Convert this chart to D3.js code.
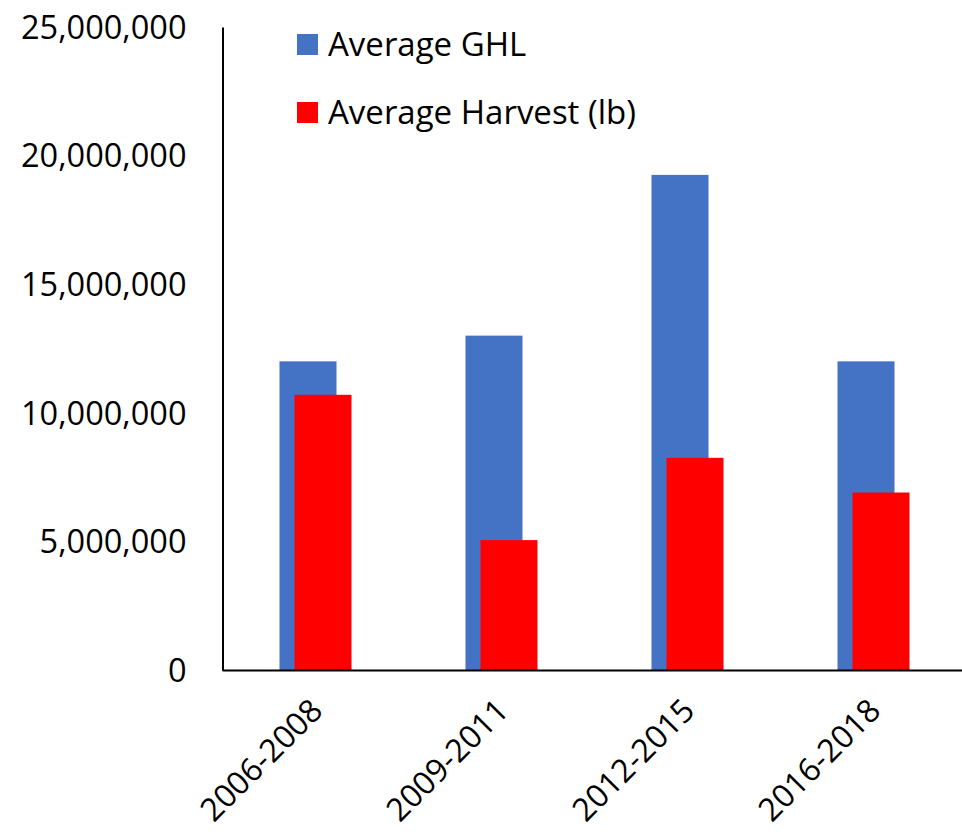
<!DOCTYPE html>
<html><head><meta charset="utf-8">
<script src="https://cdn.jsdelivr.net/npm/d3@7"></script>
<style>body{margin:0;background:#fff}svg{display:block}text{font-family:"Open Sans",sans-serif;fill:#000}</style>
</head><body>
<svg id="c" width="962" height="832"></svg>
<script>
const categories = ["2006-2008","2009-2011","2012-2015","2016-2018"];
const ghl = [12000000,13000000,19250000,12000000];
const harvest = [10700000,5050000,8250000,6900000];
const seriesNames = ["Average GHL","Average Harvest (lb)"];
const seriesColors = ["#4472C4","#FF0000"];
const yTicks = [0,5000000,10000000,15000000,20000000,25000000];

const svg = d3.select("#c");
const x = d3.scaleBand().domain(categories).range([222.5,966.5]);
const y = d3.scaleLinear().domain([0,25000000]).range([670,27]);
const bw = 57, off = 15;

const g = svg.append("g");
categories.forEach((c,i)=>{
  const cx = x(c)+x.bandwidth()/2;
  const left = cx - (bw+off)/2;
  g.append("rect").attr("x",left).attr("y",y(ghl[i])).attr("width",bw).attr("height",y(0)-y(ghl[i])).attr("fill",seriesColors[0]);
  g.append("rect").attr("x",left+off).attr("y",y(harvest[i])).attr("width",bw).attr("height",y(0)-y(harvest[i])).attr("fill",seriesColors[1]);
});

// y axis
const ya = svg.append("g").attr("transform","translate(222.5,0)")
  .call(d3.axisLeft(y).tickValues(yTicks).tickSize(0).tickPadding(36).tickFormat(d3.format(",")));
ya.select(".domain").attr("stroke","#000").attr("stroke-width",2);
ya.selectAll("text").attr("font-size",32.5).attr("font-family","Open Sans").attr("dy","0.35em");

// x axis
const xa = svg.append("g").attr("transform","translate(0,670.5)")
  .call(d3.axisBottom(x).tickSize(0).tickFormat(d=>d));
xa.select(".domain").attr("stroke","#000").attr("stroke-width",2).attr("d","M222.5,0H962");
xa.selectAll("text").attr("font-size",32).attr("font-family","Open Sans")
  .attr("text-anchor","end").attr("dy",null).attr("y",0)
  .attr("transform","translate(9,42) rotate(-45)");

// legend
seriesNames.forEach((n,i)=>{
  const ly = 34 + i*68;
  svg.append("rect").attr("x",297).attr("y",ly).attr("width",21).attr("height",21).attr("fill",seriesColors[i]);
  svg.append("text").attr("x",328).attr("y",ly+22).attr("font-size",33).text(n);
});
</script>
</body></html>
